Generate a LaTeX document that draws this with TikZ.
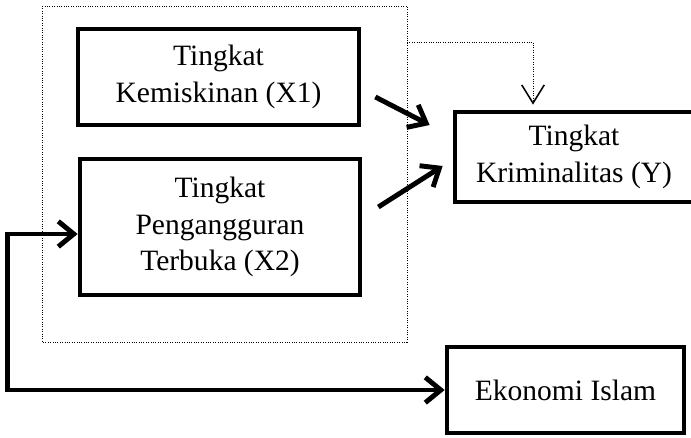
\documentclass[tikz,border=0pt]{standalone}
\usepackage{fontspec}
\setmainfont{Liberation Serif}
\usetikzlibrary{arrows.meta,positioning,calc}

\begin{document}
\begin{tikzpicture}[
    x=0.025cm, y=-0.025cm,
    font=\fontsize{21}{26}\selectfont,
    var/.style={draw, line width=3.3pt, align=center, inner sep=0pt},
    flow/.style={line width=3.5pt, -{Straight Barb[length=11pt,width=18pt]}},
    frame/.style={densely dotted, line width=0.7pt}
]
\useasboundingbox (0,0) rectangle (691,438);

% dotted frame round the two X boxes
\draw[frame] (42,6) rectangle (407,342);
\coordinate (tap) at (407,42);

\node[var, minimum width=7.025cm, minimum height=2.4cm] (kemiskinan) at (218.5,77) {Tingkat\\Kemiskinan (X1)};
\node[var, minimum width=7.0cm, minimum height=3.4cm] (pengangguran) at (220,227) {Tingkat\\Pengangguran\\Terbuka (X2)};
\node[var, minimum width=5.95cm, minimum height=2.25cm] (kriminalitas) at (574,157) {Tingkat\\Kriminalitas (Y)};
\node[var, minimum width=5.925cm, minimum height=2.15cm] (ekonomi) at (565.5,390) {Ekonomi Islam};

\draw[frame, -{Straight Barb[length=13pt,width=16pt,line width=1.1pt]}] (tap) -| ($(kriminalitas.north)+(-41,-5)$);

\draw[flow] ($(kemiskinan.east)+(14,20)$) -- ($(kriminalitas.west)+(-23,-32)$);
\draw[flow] ($(pengangguran.east)+(16,-20)$) -- ($(kriminalitas.west)+(-10,9)$);
\draw[flow, {Straight Barb[length=11pt,width=18pt]}-{Straight Barb[length=11pt,width=18pt]}] ($(pengangguran.west)+(0,7)$) -- ++(-70,0) |- (ekonomi.west);
\end{tikzpicture}
\end{document}
